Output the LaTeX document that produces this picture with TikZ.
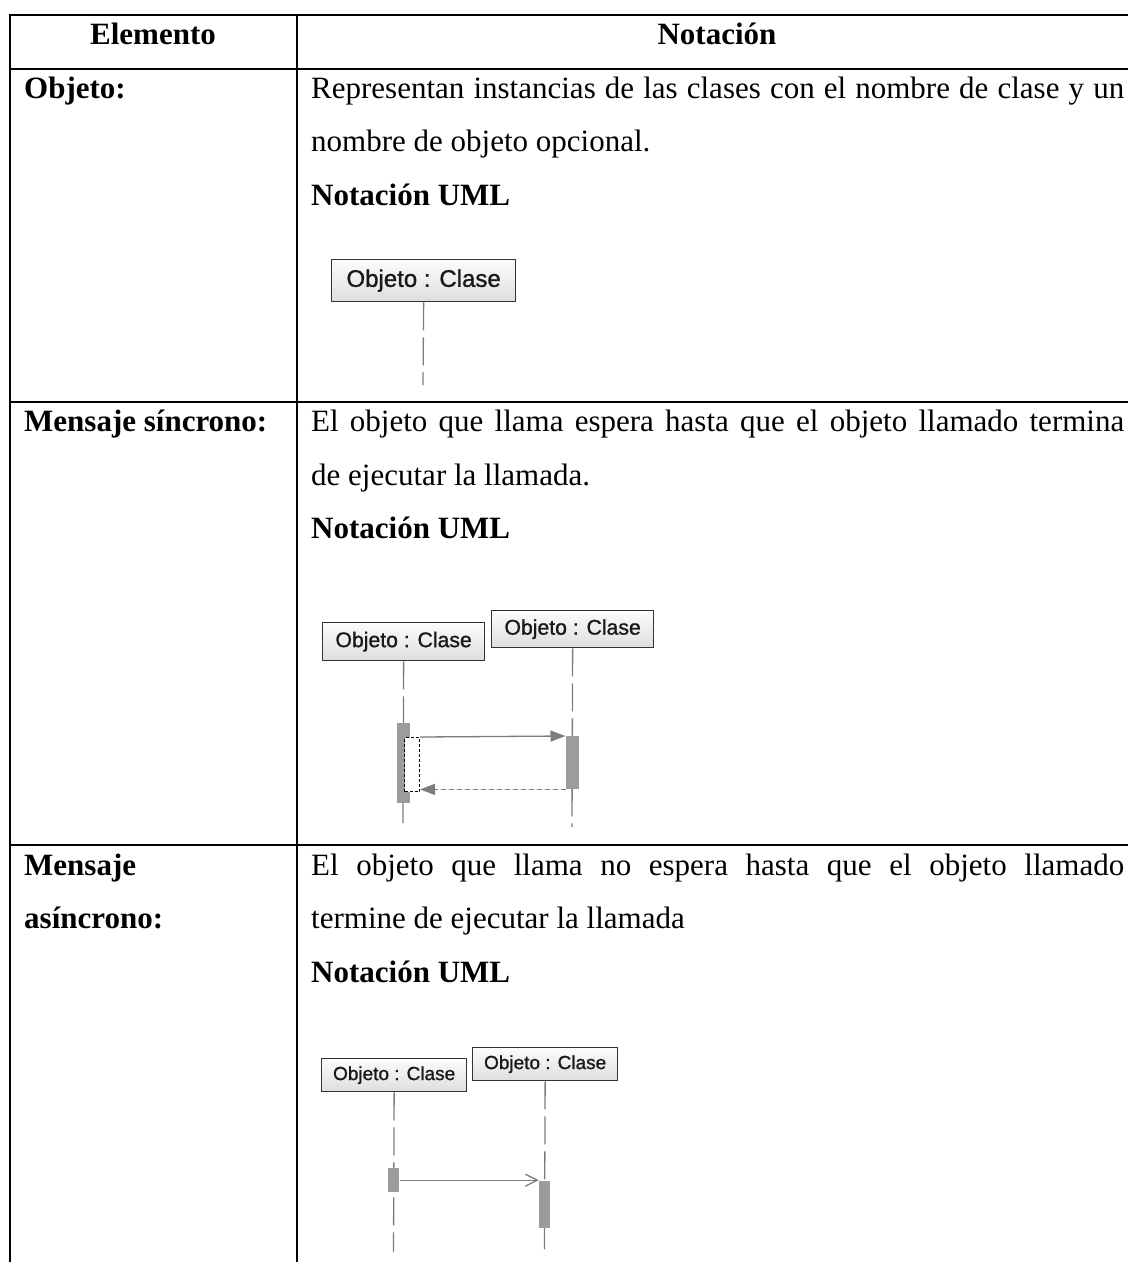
\documentclass[tikz,border=0pt]{standalone}
\usepackage{fontspec}
\setmainfont{Liberation Serif}
\setsansfont{Liberation Sans}
\newfontfamily\umlfont{Liberation Sans}[FakeBold=1.1]
\usetikzlibrary{arrows.meta}
\definecolor{boxline}{HTML}{333333}
\definecolor{lifeline}{HTML}{7C7C7C}
\definecolor{barfill}{HTML}{9C9C9C}
\definecolor{boxtop}{HTML}{FCFCFC}
\definecolor{boxbot}{HTML}{DEDEDE}
\begin{document}
\begin{tikzpicture}[x=1pt,y=-1pt,
  grid/.style={line width=2pt, black},
  body/.style={anchor=base west, inner sep=0pt, font=\fontsize{31}{37}\selectfont},
  bodybold/.style={anchor=base west, inner sep=0pt, font=\fontsize{31}{37}\selectfont\bfseries},
  head/.style={anchor=base, inner sep=0pt, font=\fontsize{31}{37}\selectfont\bfseries},
  umlbox/.style={draw=boxline, line width=1.3pt, top color=boxtop, bottom color=boxbot,
    inner sep=0pt, anchor=north west, text=black!90},
  life/.style={draw=lifeline, line width=1.3pt, dash pattern=on 28pt off 7pt},
  bar/.style={fill=barfill, draw=none, inner sep=0pt, anchor=north west},
  nested/.style={fill=white, draw=black, line width=1pt, dash pattern=on 3pt off 2pt,
    inner sep=0pt, anchor=north west},
  msg/.style={draw=lifeline, line width=1.3pt},
  filledtip/.style={-{Triangle[length=15pt,width=11pt]}, fill=lifeline},
  opentip/.style={-{Straight Barb[length=12pt,width=12pt]}},
]
\useasboundingbox (0,0) rectangle (1128,1262);

% table rules
\draw[grid] (10,1262) -- (10,15) -- (1128,15);
\draw[grid] (297,15) -- (297,1262);
\draw[grid] (10,69) -- (1128,69);
\draw[grid] (10,402) -- (1128,402);
\draw[grid] (10,845) -- (1128,845);

% header
\node[head] (hElem) at (153,44) {Elemento};
\node[head] (hNot) at (717,44) {Notación};

% row: object
\node[bodybold] (objLbl) at (24,98) {Objeto:};
\node[body] (r1a) at (311,98) {\makebox[813pt][s]{Representan instancias de las clases con el nombre de clase y un}};
\node[body] (r1b) at (311,151.5) {nombre de objeto opcional.};
\node[bodybold] (r1c) at (311,205) {Notación UML};

\node[umlbox, minimum width=184pt, minimum height=42pt,
  font=\umlfont\fontsize{24}{29}\selectfont] (o1) at (331,259) {Objeto : Clase};
\coordinate (o1end) at (423,385);
\draw[life] (o1.south) -- (o1end);

% row: synchronous message
\node[bodybold] (syncLbl) at (24,431.5) {Mensaje síncrono:};
\node[body] (r2a) at (311,431.5) {\makebox[813pt][s]{El objeto que llama espera hasta que el objeto llamado termina}};
\node[body] (r2b) at (311,485) {de ejecutar la llamada.};
\node[bodybold] (r2c) at (311,538.5) {Notación UML};

\node[umlbox, minimum width=162pt, minimum height=38pt,
  font=\umlfont\fontsize{21.2}{26}\selectfont] (sA) at (322,622) {Objeto : Clase};
\node[umlbox, minimum width=162pt, minimum height=37pt,
  font=\umlfont\fontsize{21.2}{26}\selectfont] (sB) at (491,610) {Objeto : Clase};
\coordinate (sAend) at (403,823);
\coordinate (sBend) at (572,827);
\draw[life] (sA.south) -- (sAend);
\draw[life] (sB.south) -- (sBend);
\node[bar, minimum width=13pt, minimum height=80pt] (sActA) at (396.5,723) {};
\node[bar, minimum width=13pt, minimum height=53pt] (sActB) at (565.5,736) {};
\node[nested, minimum width=15pt, minimum height=54pt] (sNest) at (404,737) {};
\draw[msg, filledtip] (sNest.north east) -- (sActB.north west);
\draw[msg, filledtip, dash pattern=on 5pt off 3pt] (sActB.south west) -- (sActB.south west -| sNest.east);

% row: asynchronous message
\node[bodybold] (asyLbl1) at (24,875) {Mensaje};
\node[bodybold] (asyLbl2) at (24,928.5) {asíncrono:};
\node[body] (r3a) at (311,875) {\makebox[813pt][s]{El objeto que llama no espera hasta que el objeto llamado}};
\node[body] (r3b) at (311,928.5) {termine de ejecutar la llamada};
\node[bodybold] (r3c) at (311,982) {Notación UML};

\node[umlbox, minimum width=145pt, minimum height=33pt,
  font=\umlfont\fontsize{19}{23}\selectfont] (aA) at (321,1058) {Objeto : Clase};
\node[umlbox, minimum width=145pt, minimum height=33pt,
  font=\umlfont\fontsize{19}{23}\selectfont] (aB) at (472,1047) {Objeto : Clase};
\coordinate (aAend) at (393.5,1252);
\coordinate (aBend) at (544.5,1252);
\draw[life] (aA.south) -- (aAend);
\draw[life] (aB.south) -- (aBend);
\node[bar, minimum width=11.5pt, minimum height=24pt] (aActA) at (387.75,1168) {};
\node[bar, minimum width=11.5pt, minimum height=47pt] (aActB) at (538.75,1181) {};
\draw[msg, opentip] (aActA.east) -- (aActA.east -| aActB.west);
\end{tikzpicture}
\end{document}
